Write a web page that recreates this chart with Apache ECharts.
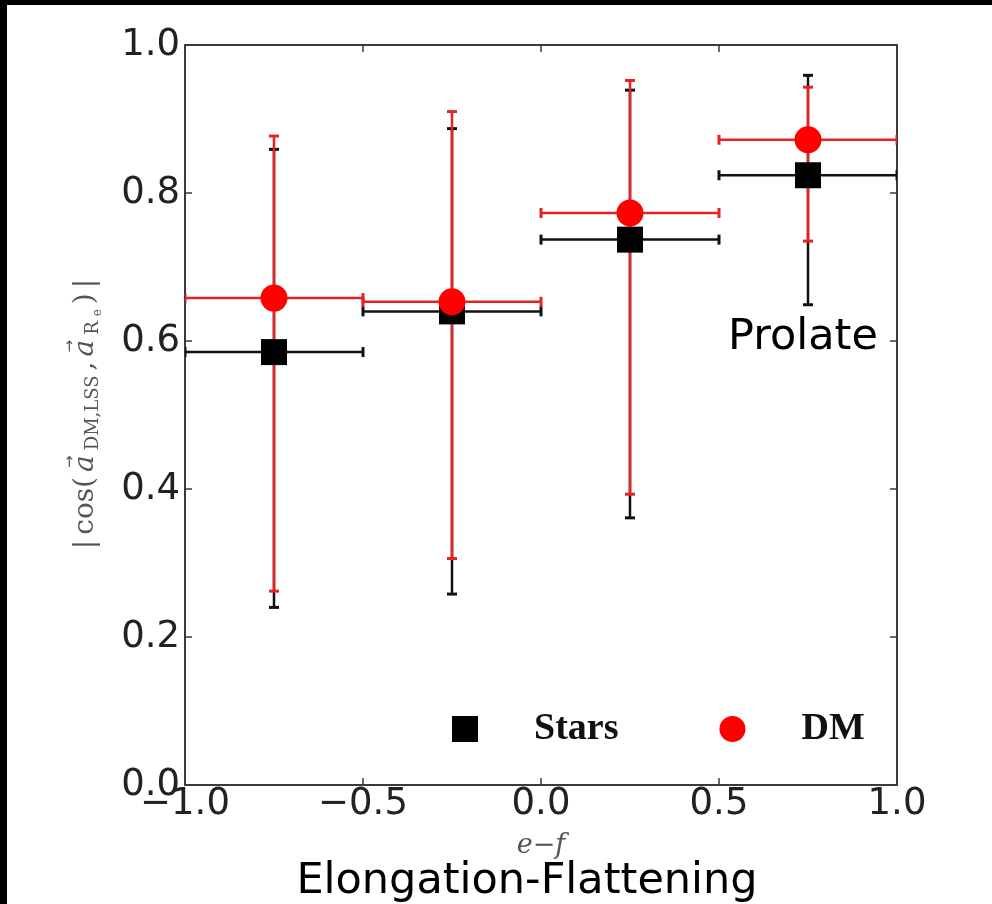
<!DOCTYPE html>
<html>
<head>
<meta charset="utf-8">
<script src="https://cdn.jsdelivr.net/npm/echarts@6/dist/echarts.min.js"></script>
<style>
  html, body { margin: 0; padding: 0; background: #fff; }
  #chart { width: 992px; height: 904px; }
</style>
</head>
<body>
<div id="chart"></div>
<script>
  // bins in e-f
  var binCenters = [-0.75, -0.25, 0.25, 0.75];
  var binLow = [-1.0, -0.5, 0.0, 0.5];
  var binHigh = [-0.5, 0.0, 0.5, 1.0];
  // Stars
  var starsMean = [0.585, 0.640, 0.737, 0.824];
  var starsLow = [0.240, 0.258, 0.361, 0.649];
  var starsHigh = [0.859, 0.887, 0.939, 0.959];
  // DM
  var dmMean = [0.658, 0.653, 0.773, 0.872];
  var dmLow = [0.262, 0.306, 0.393, 0.735];
  var dmHigh = [0.877, 0.910, 0.952, 0.943];

  var chart = echarts.init(document.getElementById('chart'));

  function errRows(mean, low, high) {
    return binCenters.map(function (x, i) {
      return [x, mean[i], binLow[i], binHigh[i], low[i], high[i]];
    });
  }

  function errorBars(color) {
    return function (params, api) {
      var x = api.value(0), y = api.value(1);
      var c = api.coord([x, y]);
      var pl = api.coord([api.value(2), y]);
      var pr = api.coord([api.value(3), y]);
      var pb = api.coord([x, api.value(4)]);
      var pt = api.coord([x, api.value(5)]);
      var cap = 5;
      var line = { stroke: color, lineWidth: 2.5 };
      var capStyle = { stroke: color, lineWidth: 3 };
      return {
        type: 'group',
        children: [
          { type: 'line', shape: { x1: pl[0], y1: c[1], x2: pr[0], y2: c[1] }, style: line },
          { type: 'line', shape: { x1: c[0], y1: pb[1], x2: c[0], y2: pt[1] }, style: line },
          { type: 'line', shape: { x1: pl[0], y1: c[1] - cap, x2: pl[0], y2: c[1] + cap }, style: capStyle },
          { type: 'line', shape: { x1: pr[0], y1: c[1] - cap, x2: pr[0], y2: c[1] + cap }, style: capStyle },
          { type: 'line', shape: { x1: c[0] - cap, y1: pb[1], x2: c[0] + cap, y2: pb[1] }, style: capStyle },
          { type: 'line', shape: { x1: c[0] - cap, y1: pt[1], x2: c[0] + cap, y2: pt[1] }, style: capStyle }
        ]
      };
    };
  }

  // y axis title |cos(a_DM,LSS, a_Re)| built from pieces, arrows drawn over the a's
  var labelPieces = [
    { t: '|', f: '28px "DejaVu Serif"', dy: 0 },
    { t: 'cos(', f: '28px "DejaVu Serif"', dy: 0 },
    { t: 'a', f: 'italic 28px "DejaVu Serif"', dy: 0, arrow: true },
    { t: 'DM,LSS', f: '18px "DejaVu Serif"', dy: 7 },
    { t: ',', f: '28px "DejaVu Serif"', dy: 0 },
    { t: 'a', f: 'italic 28px "DejaVu Serif"', dy: 0, arrow: true },
    { t: 'R', f: '18px "DejaVu Serif"', dy: 7 },
    { t: 'e', f: '12px "DejaVu Serif"', dy: 12 },
    { t: ')', f: '28px "DejaVu Serif"', dy: 0 },
    { t: '|', f: '28px "DejaVu Serif"', dy: 0 }
  ];
  var pieceGap = 5;
  var ctx = document.createElement('canvas').getContext('2d');
  var widths = labelPieces.map(function (p) { ctx.font = p.f; return ctx.measureText(p.t).width; });
  var total = widths.reduce(function (a, b) { return a + b; }, 0) + pieceGap * (labelPieces.length - 1);
  var labelChildren = [];
  var cx = -total / 2;
  labelPieces.forEach(function (p, i) {
    labelChildren.push({
      type: 'text', x: cx, y: p.dy,
      style: { text: p.t, font: p.f, fill: '#555', align: 'left', verticalAlign: 'middle' }
    });
    if (p.arrow) {
      labelChildren.push({
        type: 'text', x: cx + widths[i] / 2 + 2, y: -16,
        style: { text: '\u2192', font: '15px "DejaVu Sans"', fill: '#555', align: 'center', verticalAlign: 'middle' }
      });
    }
    cx += widths[i] + pieceGap;
  });

  var axisColor = '#3a3a3a';
  var tickFont = { fontFamily: 'DejaVu Sans', fontSize: 37, color: '#222' };

  function fmt(v) {
    return (v < 0 ? '\u2212' : '') + Math.abs(v).toFixed(1);
  }

  var option = {
    backgroundColor: '#fff',
    animation: false,
    grid: { left: 185, right: 95, top: 45, bottom: 119, show: false },
    legend: {
      left: 447, top: 705,
      itemWidth: 26, itemHeight: 26,
      itemGap: 101,
      data: [{ name: 'Stars', icon: 'rect' }, { name: 'DM', icon: 'circle' }],
      textStyle: { fontFamily: 'Liberation Serif', fontWeight: 'bold', fontSize: 38, color: '#111', padding: [0, 0, 0, 51] }
    },
    xAxis: [{
      type: 'value', min: -1, max: 1, interval: 0.5,
      axisLine: { onZero: false, lineStyle: { color: axisColor, width: 2 } },
      axisTick: { inside: true, length: 7, lineStyle: { color: axisColor, width: 1.5 } },
      axisLabel: Object.assign({ margin: 1, formatter: fmt }, tickFont),
      splitLine: { show: false }
    }, {
      type: 'value', min: -1, max: 1, interval: 0.5, position: 'top',
      axisLine: { onZero: false, lineStyle: { color: axisColor, width: 2 } },
      axisTick: { inside: true, length: 7, lineStyle: { color: axisColor, width: 1.5 } },
      axisLabel: { show: false },
      splitLine: { show: false }
    }],
    yAxis: [{
      type: 'value', min: 0, max: 1, interval: 0.2,
      axisLine: { onZero: false, lineStyle: { color: axisColor, width: 2 } },
      axisTick: { inside: true, length: 7, lineStyle: { color: axisColor, width: 1.5 } },
      axisLabel: Object.assign({ margin: 5, formatter: fmt }, tickFont),
      splitLine: { show: false }
    }, {
      type: 'value', min: 0, max: 1, interval: 0.2, position: 'right',
      axisLine: { onZero: false, lineStyle: { color: axisColor, width: 2 } },
      axisTick: { inside: true, length: 7, lineStyle: { color: axisColor, width: 1.5 } },
      axisLabel: { show: false },
      splitLine: { show: false }
    }],
    series: [
      {
        name: 'StarsErr', type: 'custom', z: 1, clip: true,
        renderItem: errorBars('#111'),
        data: errRows(starsMean, starsLow, starsHigh)
      },
      {
        name: 'DMErr', type: 'custom', z: 2, clip: true,
        renderItem: errorBars('#e62222'),
        data: errRows(dmMean, dmLow, dmHigh)
      },
      {
        name: 'Stars', type: 'scatter', z: 3, symbol: 'rect', symbolSize: 26,
        itemStyle: { color: '#000', opacity: 1 },
        data: binCenters.map(function (x, i) { return [x, starsMean[i]]; })
      },
      {
        name: 'DM', type: 'scatter', z: 4, symbol: 'circle', symbolSize: 27,
        itemStyle: { color: '#ff0000', opacity: 1 },
        data: binCenters.map(function (x, i) { return [x, dmMean[i]]; })
      }
    ],
    graphic: [
      {
        type: 'group', x: 86, y: 414, rotation: Math.PI / 2,
        children: labelChildren
      },
      {
        type: 'text', x: 541, y: 846,
        style: { text: 'e\u2212f', align: 'center', verticalAlign: 'middle', font: 'italic 27px "DejaVu Serif"', fill: '#555' }
      },
      {
        type: 'text', x: 527, y: 882,
        style: { text: 'Elongation-Flattening', align: 'center', verticalAlign: 'middle', font: '43px "DejaVu Sans"', fill: '#000' }
      },
      {
        type: 'text', x: 803, y: 338,
        style: { text: 'Prolate', align: 'center', verticalAlign: 'middle', font: '43px "DejaVu Sans"', fill: '#000' }
      },
      { type: 'rect', left: 0, top: 0, z: 100, shape: { width: 992, height: 5 }, style: { fill: '#000' } },
      { type: 'rect', left: 0, top: 0, z: 100, shape: { width: 7, height: 904 }, style: { fill: '#000' } }
    ]
  };

  chart.setOption(option);
</script>
</body>
</html>
